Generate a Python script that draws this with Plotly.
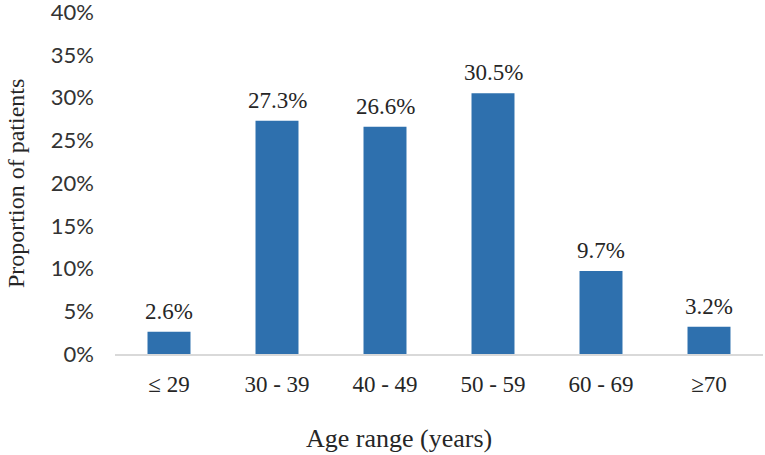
import plotly.graph_objects as go

categories = ["≤ 29", "30 - 39", "40 - 49", "50 - 59", "60 - 69", "≥70"]
values = [2.6, 27.3, 26.6, 30.5, 9.7, 3.2]
labels = ["2.6%", "27.3%", "26.6%", "30.5%", "9.7%", "3.2%"]
y_ticks = [0, 5, 10, 15, 20, 25, 30, 35, 40]
y_tick_text = ["0%", "5%", "10%", "15%", "20%", "25%", "30%", "35%", "40%"]

BAR = "#2E70AE"
SERIF = "Liberation Serif"
SANS = "Lato"

fig = go.Figure()
fig.add_trace(go.Bar(x=categories, y=values, marker=dict(color=BAR, line=dict(width=0)),
                     hoverinfo="skip"))

for c, v, t in zip(categories, values, labels):
    fig.add_annotation(x=c, y=v, text=t, showarrow=False, yanchor="bottom",
                       yshift=6, font=dict(family=SERIF, size=23, color="#262626"))

fig.add_annotation(xref="paper", yref="paper", x=-0.1528, y=0.5, text="Proportion of patients",
                   textangle=-90, showarrow=False, xanchor="center", yanchor="middle",
                   font=dict(family=SERIF, size=24, color="#262626"))
fig.add_annotation(xref="paper", yref="paper", x=0.438, y=-0.247, text="Age range (years)",
                   showarrow=False, xanchor="center", yanchor="middle",
                   font=dict(family=SERIF, size=26, color="#262626"))

fig.update_layout(
    width=765, height=455,
    margin=dict(l=115, r=2, t=12, b=101, autoexpand=False),
    paper_bgcolor="white", plot_bgcolor="white",
    bargap=0.602, showlegend=False,
)
fig.update_xaxes(showline=True, linecolor="#D9D9D9", linewidth=1.5, showgrid=False,
                 ticks="", ticklabelstandoff=9, automargin=False,
                 tickfont=dict(family=SERIF, size=23, color="#262626"))
fig.update_yaxes(range=[0, 40.02], tickvals=y_ticks, ticktext=y_tick_text, showgrid=False,
                 showline=False, zeroline=False, ticks="", ticklabelstandoff=20,
                 automargin=False, ticklabeloverflow="allow",
                 tickfont=dict(family=SANS, size=22, color="#333333"))

fig.write_html("out.html", config={"displayModeBar": False, "staticPlot": True},
               post_script="document.body.style.margin='0';document.body.style.overflow='hidden';")
